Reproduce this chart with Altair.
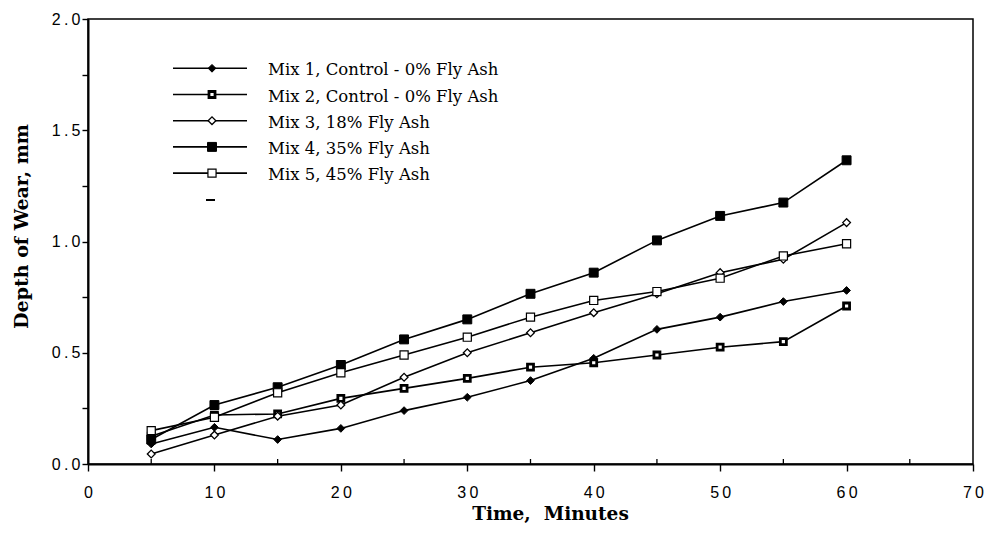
import altair as alt
import pandas as pd

# Abrasion test: depth of wear against time for five concrete mixes
times = [5, 10, 15, 20, 25, 30, 35, 40, 45, 50, 55, 60]
series = [
    "Mix 1, Control - 0% Fly Ash",
    "Mix 2, Control - 0% Fly Ash",
    "Mix 3, 18% Fly Ash",
    "Mix 4, 35% Fly Ash",
    "Mix 5, 45% Fly Ash",
]
mix1 = [0.09, 0.165, 0.11, 0.16, 0.24, 0.30, 0.375, 0.475, 0.605, 0.66, 0.73, 0.78]
mix2 = [0.125, 0.22, 0.225, 0.295, 0.34, 0.385, 0.435, 0.455, 0.49, 0.525, 0.55, 0.71]
mix3 = [0.045, 0.13, 0.215, 0.265, 0.39, 0.50, 0.59, 0.68, 0.765, 0.86, 0.92, 1.085]
mix4 = [0.11, 0.265, 0.345, 0.445, 0.56, 0.65, 0.765, 0.86, 1.005, 1.115, 1.175, 1.365]
mix5 = [0.15, 0.21, 0.32, 0.41, 0.49, 0.57, 0.66, 0.735, 0.775, 0.835, 0.935, 0.99]
x_ticks = [0, 10, 20, 30, 40, 50, 60, 70]
x_minor = [5, 15, 25, 35, 45, 55, 65]
y_ticks = [0, 0.25, 0.5, 0.75, 1.0, 1.25, 1.5, 1.75, 2.0]

rows = []
for name, vals in zip(series, [mix1, mix2, mix3, mix4, mix5]):
    for t, v in zip(times, vals):
        rows.append({"time": t, "wear": v, "mix": name})
data = pd.DataFrame(rows)
legend_df = pd.DataFrame({"mix": series, "i": list(range(len(series)))})
minor_df = pd.DataFrame({"time": x_minor})

W, H = 885, 445
thin = "\u2009"

# marker style for each mix: (shape, fill, size, stroke width)
marker_styles = [
    ("diamond", "black", 60, 1.0),
    ("square", "white", 36, 2.8),
    ("diamond", "white", 60, 1.3),
    ("square", "black", 80, 1.0),
    ("square", "white", 66, 1.2),
]

x_scale = alt.Scale(domain=[0, 70], nice=False, zero=False)
y_scale = alt.Scale(domain=[0, 2], nice=False, zero=False)

x_enc = alt.X(
    "time:Q", scale=x_scale,
    axis=alt.Axis(
        values=x_ticks, title="Time,\u00a0 Minutes",
        titleFont="DejaVu Serif", titleFontWeight="bold", titleFontSize=18.5, titleColor="black",
        titleX=462, titleY=55, titleAlign="center", titleBaseline="alphabetic",
        labelFont="Liberation Sans", labelFontSize=16, labelColor="black", labelPadding=13,
        labelFlush=False, labelOverlap=False,
        labelExpr=f"join(split(datum.label, ''), '{thin}')",
        tickSize=7, tickWidth=1.4, tickColor="black", domainColor="black", domainWidth=2, grid=False,
    ),
)
y_enc = alt.Y(
    "wear:Q", scale=y_scale,
    axis=alt.Axis(
        values=y_ticks, title="Depth of Wear, mm",
        titleFont="DejaVu Serif", titleFontWeight="bold", titleFontSize=19, titleColor="black",
        titleX=-61, titleY=207, titleAlign="center", titleBaseline="alphabetic", titleAngle=270,
        labelFont="Liberation Sans", labelFontSize=16, labelColor="black", labelPadding=2,
        labelFlush=False, labelOverlap=False,
        labelExpr=f"(datum.value * 2) % 1 == 0 ? join(split(format(datum.value, '.1f'), ''), '{thin}') : ''",
        tickSize=6, tickWidth=1.4, tickColor="black", domainColor="black", domainWidth=2, grid=False,
    ),
)

base = alt.Chart(data)
lines = base.mark_line(color="black", strokeWidth=1.6).encode(
    x=x_enc, y=y_enc, detail="mix:N", order="time:Q"
)

# hand-drawn key in the upper left of the plot
leg = alt.Chart(legend_df).transform_calculate(
    yv=f"2 - (49.3 + datum.i * 26.2) * 2 / {H}"
)
leg_lines = leg.mark_rule(color="black", strokeWidth=1.6).encode(
    x=alt.value(85), x2=alt.value(159), y="yv:Q"
)

marker_layers = []
for name, (shape, fill, size, sw) in zip(series, marker_styles):
    style = dict(shape=shape, fill=fill, size=size, strokeWidth=sw, stroke="black", filled=False, opacity=1)
    marker_layers.append(
        base.transform_filter(alt.datum.mix == name).mark_point(**style).encode(x="time:Q", y="wear:Q")
    )
    marker_layers.append(
        leg.transform_filter(alt.datum.mix == name).mark_point(**style).encode(x=alt.value(124), y="yv:Q")
    )

leg_text = leg.mark_text(align="left", baseline="middle", dy=2, font="DejaVu Serif", fontSize=16.5, color="black").encode(
    x=alt.value(180), y="yv:Q", text="mix:N"
)
leg_dash = alt.Chart(pd.DataFrame({"k": [0]})).mark_rule(color="black", strokeWidth=2).encode(
    x=alt.value(118), x2=alt.value(127), y=alt.value(181)
)

# inward minor ticks along the time axis
minor = alt.Chart(minor_df).mark_rule(color="black", strokeWidth=1.3).encode(
    x="time:Q", y=alt.value(H), y2=alt.value(H - 5)
)

chart = alt.layer(lines, minor, leg_lines, *marker_layers, leg_text, leg_dash).properties(
    width=W, height=H,
    autosize=alt.AutoSizeParams(type="none"),
    padding={"left": 88, "top": 19, "right": 12, "bottom": 70},
    background="white",
).configure_view(stroke="black", strokeWidth=1.5)

chart.save("out.html", embed_options={"renderer": "svg", "actions": False})
